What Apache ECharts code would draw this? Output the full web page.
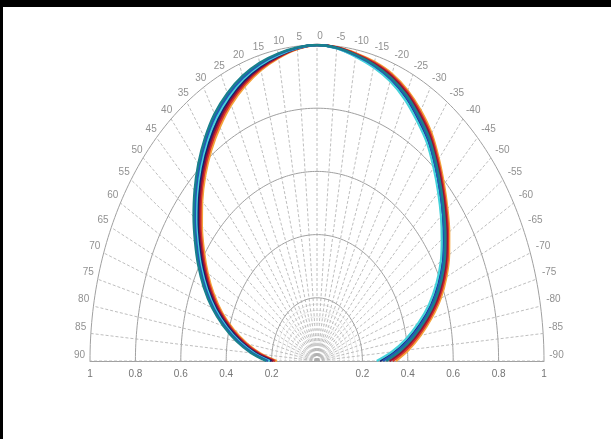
<!DOCTYPE html>
<html>
<head>
<meta charset="utf-8">
<script src="https://cdn.jsdelivr.net/npm/echarts@6/dist/echarts.min.js"></script>
<style>
  html, body { margin: 0; padding: 0; background: #fff; }
  #wrap { position: relative; width: 611px; height: 439px; overflow: hidden; }
  #chart { position: absolute; left: 0; top: 0; width: 611px; height: 439px; }
  #topbar { position: absolute; left: 0; top: 0; width: 611px; height: 7px; background: #000; }
  #leftbar { position: absolute; left: 0; top: 0; width: 3px; height: 439px; background: #000; }
</style>
</head>
<body>
<div id="wrap">
  <div id="chart"></div>
  <div id="topbar"></div>
  <div id="leftbar"></div>
</div>
<script>
// Angles (degrees, 0 = top, positive = left side)
const angles = [90,85,80,75,70,65,60,55,50,45,40,35,30,25,20,15,10,5,0,-5,-10,-15,-20,-25,-30,-35,-40,-45,-50,-55,-60,-65,-70,-75,-80,-85,-90];
const angleTickLabels = ['90','85','80','75','70','65','60','55','50','45','40','35','30','25','20','15','10','5','0','-5','-10','-15','-20','-25','-30','-35','-40','-45','-50','-55','-60','-65','-70','-75','-80','-85','-90'];
const ringRadii = [0.2,0.4,0.6,0.8,1.0];
const fineRingRadii = [0.02,0.04,0.06,0.08,0.1,0.12,0.14,0.16,0.18];

// Radial values of each curve, one per angle above (90 ... 0 ... -90)
const rTeal   = [0.224,0.292,0.360,0.427,0.492,0.550,0.604,0.656,0.710,0.763,0.814,0.861,0.903,0.935,0.960,0.977,0.988,0.996,1.000,0.995,0.984,0.971,0.954,0.930,0.897,0.862,0.817,0.773,0.731,0.691,0.651,0.605,0.553,0.492,0.430,0.368,0.305].slice();
const rBlue   = [0.216,0.284,0.352,0.419,0.484,0.542,0.596,0.648,0.702,0.755,0.806,0.853,0.895,0.928,0.954,0.973,0.986,0.995,1.000,0.995,0.982,0.968,0.950,0.925,0.891,0.856,0.811,0.767,0.725,0.685,0.644,0.597,0.544,0.482,0.419,0.355,0.291];
const rCyan   = [0.208,0.276,0.344,0.411,0.476,0.534,0.588,0.640,0.694,0.747,0.798,0.845,0.887,0.921,0.949,0.969,0.983,0.994,1.000,0.993,0.978,0.962,0.942,0.914,0.879,0.844,0.799,0.755,0.713,0.671,0.630,0.581,0.526,0.462,0.397,0.330,0.263];
const rNavy   = [0.200,0.268,0.336,0.403,0.468,0.526,0.580,0.632,0.686,0.739,0.790,0.837,0.879,0.915,0.943,0.965,0.981,0.994,1.000,0.994,0.980,0.965,0.946,0.920,0.885,0.850,0.805,0.761,0.719,0.678,0.637,0.589,0.535,0.472,0.408,0.343,0.277];
const rMaroon = [0.192,0.260,0.328,0.395,0.460,0.518,0.572,0.624,0.678,0.731,0.782,0.829,0.871,0.908,0.938,0.961,0.978,0.993,1.000,0.996,0.985,0.974,0.959,0.935,0.903,0.868,0.823,0.779,0.738,0.698,0.658,0.613,0.562,0.502,0.441,0.380,0.319];
const rRed    = [0.184,0.252,0.320,0.387,0.452,0.510,0.564,0.616,0.670,0.723,0.774,0.821,0.863,0.901,0.932,0.957,0.976,0.992,1.000,0.996,0.987,0.977,0.963,0.940,0.909,0.874,0.829,0.785,0.744,0.704,0.665,0.621,0.571,0.512,0.452,0.393,0.333];
const rOrange = [0.176,0.244,0.312,0.379,0.444,0.502,0.556,0.608,0.662,0.715,0.766,0.813,0.855,0.894,0.926,0.953,0.974,0.991,1.000,0.997,0.989,0.980,0.967,0.945,0.915,0.880,0.835,0.791,0.750,0.711,0.672,0.629,0.580,0.522,0.463,0.405,0.347];

const curves = [
  { name: 'orange', color: '#f3a33a', r: rOrange },
  { name: 'red',    color: '#d8342c', r: rRed },
  { name: 'maroon', color: '#8e1236', r: rMaroon },
  { name: 'navy',   color: '#16206e', r: rNavy },
  { name: 'cyan',   color: '#45d2da', r: rCyan },
  { name: 'blue',   color: '#2358b8', r: rBlue },
  { name: 'teal',   color: '#18808c', r: rTeal }
];

const rad = d => d * Math.PI / 180;
function polarPoint(r, deg) { return [-r * Math.sin(rad(deg)), r * Math.cos(rad(deg))]; }

function ringData(r) {
  const pts = [];
  for (let d = 90; d >= -90; d -= 1) pts.push(polarPoint(r, d));
  return pts;
}

const series = [];
fineRingRadii.forEach(r => series.push({
  type: 'line', data: ringData(r), showSymbol: false, silent: true, z: 1,
  lineStyle: { color: '#b8b8b8', width: 0.6, type: 'dotted' }
}));
ringRadii.forEach(r => series.push({
  type: 'line', data: ringData(r), showSymbol: false, silent: true, z: 2,
  lineStyle: { color: '#a0a0a0', width: 1 }
}));
angles.forEach(a => series.push({
  type: 'line', data: [[0, 0], polarPoint(1, a)], showSymbol: false, silent: true, z: 2,
  lineStyle: { color: '#adadad', width: 0.8, type: [3, 2] }
}));
series.push({
  type: 'scatter', symbolSize: 0, silent: true, z: 5,
  data: angles.map((a, i) => {
    const s = Math.sin(rad(a)), c = Math.cos(rad(a));
    const dx = (a >= 0 ? -10.5 * s : -12.5 * s) + 3 * c;
    const dy = -6 - 3 * c;
    return {
      value: polarPoint(1, a),
      label: {
        show: true, formatter: angleTickLabels[i], position: 'inside',
        offset: [dx, dy],
        color: '#747474', fontSize: 10, fontFamily: 'Liberation Sans'
      }
    };
  })
});
curves.forEach((c, k) => series.push({
  type: 'line', name: c.name, data: c.r.map((r, i) => polarPoint(r, angles[i])),
  showSymbol: false, smooth: 0.3, silent: true, z: 10 + k,
  lineStyle: { color: c.color, width: 2.3 }
}));

const chart = echarts.init(document.getElementById('chart'));
chart.setOption({
  animation: false,
  backgroundColor: '#fff',
  grid: { left: 90, right: 67, top: 45, bottom: 78 },
  xAxis: {
    type: 'value', min: -1, max: 1, interval: 0.2,
    axisLine: { show: true, lineStyle: { color: '#a0a0a0', width: 1 } },
    axisTick: { show: false },
    splitLine: { show: false },
    axisLabel: {
      color: '#747474', fontSize: 10, fontFamily: 'Liberation Sans', margin: 8,
      formatter: v => Math.abs(v) < 1e-9 ? '' : String(Math.round(Math.abs(v) * 10) / 10)
    }
  },
  yAxis: { type: 'value', min: 0, max: 1, show: false },
  series: series
});
</script>
</body>
</html>
